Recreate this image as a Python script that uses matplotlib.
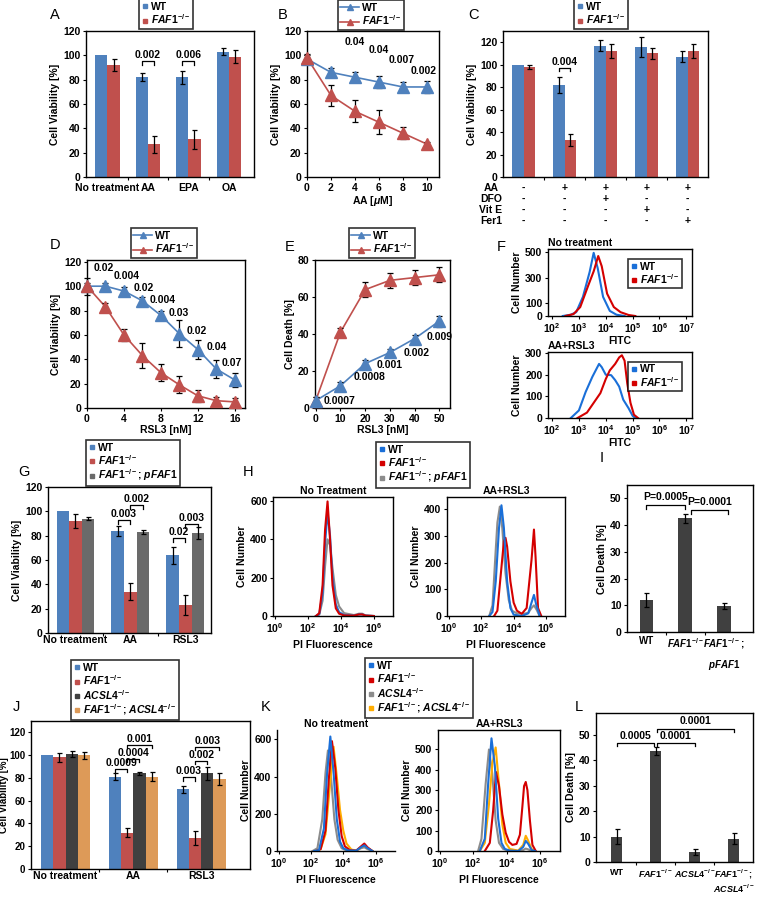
import numpy as np
import matplotlib
matplotlib.use('Agg')
import matplotlib.pyplot as plt
from matplotlib.lines import Line2D
from matplotlib.transforms import blended_transform_factory

plt.rcParams['font.family'] = ['Liberation Sans', 'DejaVu Sans']
plt.rcParams['font.weight'] = 'bold'
plt.rcParams['axes.labelweight'] = 'bold'
plt.rcParams['mathtext.fontset'] = 'custom'
plt.rcParams['mathtext.rm'] = 'Liberation Sans:bold'
plt.rcParams['mathtext.it'] = 'Liberation Sans:italic:bold'
plt.rcParams['mathtext.bf'] = 'Liberation Sans:bold'
plt.rcParams['mathtext.sf'] = 'Liberation Sans:bold'

FAF = r'$\mathit{FAF1}^{-/-}$'
ACSL = r'$\mathit{ACSL4}^{-/-}$'
PFAF = r'$\mathit{FAF1}^{-/-}$; $\mathit{pFAF1}$'
DKO = r'$\mathit{FAF1}^{-/-}$; $\mathit{ACSL4}^{-/-}$'

BLUE, RED, GRAY, DARK, ORANGE = '#4f81bd', '#c0504d', '#6a6a6a', '#404040', '#dd9a58'
FBLUE, FRED, FGRAY, FORANGE = '#1a6fd8', '#d40000', '#8c8c8c', '#ffad00'

# ---- A
a_groups = ['No treatment', 'AA', 'EPA', 'OA']
a_wt = [100, 82, 82, 103]
a_wt_err = [0, 3.5, 5.5, 3]
a_ko = [92, 27, 31, 99]
a_ko_err = [5, 7, 8, 5.5]

# ---- B
b_x = [0, 2, 4, 6, 8, 10]
b_wt = [97, 86, 82, 78, 74, 74]
b_wt_err = [3, 4, 4, 5, 4, 5]
b_ko = [98, 67, 54, 45, 36, 27]
b_ko_err = [3, 9, 9, 10, 5, 2]
b_p = ['0.04', '0.04', '0.007', '0.002']
b_px = [4, 6, 7.9, 9.7]
b_py = [111, 104, 96.5, 87]

# ---- C
c_wt = [100, 82, 117, 116, 107]
c_wt_err = [0, 7, 5, 9, 5]
c_ko = [98, 33, 112, 110, 112]
c_ko_err = [2, 5, 6, 5, 6]
c_rows = ['AA', 'DFO', 'Vit E', 'Fer1']
c_table = [['-', '+', '+', '+', '+'],
           ['-', '-', '+', '-', '-'],
           ['-', '-', '-', '+', '-'],
           ['-', '-', '-', '-', '+']]

# ---- D
d_x = [0, 2, 4, 6, 8, 10, 12, 14, 16]
d_wt = [100, 100, 96, 88, 76, 61, 48, 32, 23]
d_wt_err = [7, 3, 3, 3, 4, 11, 8, 7, 6]
d_ko = [100, 83, 60, 43, 29, 19, 10, 6, 5]
d_ko_err = [3, 3, 5, 10, 7, 7, 5, 3, 3]
d_p = ['0.02', '0.004', '0.02', '0.004', '0.03', '0.02', '0.04', '0.07']
d_px = [1.8, 4.3, 6.1, 8.2, 9.9, 11.9, 14.0, 15.7]
d_py = [115, 108, 98.5, 89, 78, 63.5, 50, 37]

# ---- E
e_x = [0, 10, 20, 30, 40, 50]
e_wt = [4, 12, 24, 30, 37.5, 47]
e_wt_err = [2, 2, 2, 2, 2, 3]
e_ko = [4, 41, 64, 69, 70.5, 72]
e_ko_err = [2, 2, 4, 4, 4, 4]
e_p = ['0.0007', '0.0008', '0.001', '0.002', '0.009']
e_px = [9.8, 21.7, 29.8, 41, 50.3]
e_py = [4, 17, 23, 30, 38.5]

# ---- F (log10 FITC, cell number)
f1_wt_x = [2.4, 2.7, 2.9, 3.15, 3.4, 3.55, 3.7, 3.9, 4.15, 4.4, 4.7]
f1_wt_y = [0, 10, 30, 150, 345, 495, 375, 150, 40, 10, 0]
f1_ko_x = [2.5, 2.8, 3.05, 3.35, 3.55, 3.72, 3.85, 4.05, 4.3, 4.55, 4.85, 5.1]
f1_ko_y = [0, 15, 70, 240, 350, 470, 390, 175, 70, 30, 8, 0]
f2_wt_x = [2.7, 3.0, 3.25, 3.5, 3.75, 3.85, 4.0, 4.2, 4.35, 4.5, 4.65, 4.85, 5.0, 5.1]
f2_wt_y = [0, 35, 120, 190, 250, 235, 200, 198, 175, 145, 85, 45, 10, 0]
f2_ko_x = [2.95, 3.3, 3.55, 3.8, 4.0, 4.15, 4.35, 4.5, 4.6, 4.7, 4.8, 4.92, 5.05, 5.2]
f2_ko_y = [0, 25, 70, 115, 180, 220, 250, 280, 290, 265, 160, 70, 15, 0]

# ---- G
g_groups = ['No treatment', 'AA', 'RSL3']
g_wt = [100, 84, 64]
g_wt_err = [0, 4, 7]
g_ko = [92, 34, 23]
g_ko_err = [6, 7, 8]
g_res = [94, 83, 82]
g_res_err = [1, 2, 5]

# ---- H (log10 PI, cell number)
h1_wt_x = [2.5, 2.7, 2.9, 3.05, 3.2, 3.35, 3.5, 3.7, 3.9, 4.2, 4.8, 5.1, 5.3, 5.5, 6.0]
h1_wt_y = [0, 10, 120, 380, 540, 420, 200, 60, 20, 5, 2, 8, 8, 2, 0]
h1_ko_x = [2.5, 2.7, 2.9, 3.05, 3.2, 3.35, 3.5, 3.7, 3.9, 4.2, 4.8, 5.1, 5.3, 5.5, 6.0]
h1_ko_y = [0, 15, 160, 450, 598, 400, 160, 40, 12, 3, 2, 8, 8, 2, 0]
h1_res_x = [2.5, 2.7, 2.9, 3.05, 3.2, 3.35, 3.5, 3.7, 3.9, 4.2, 4.8, 5.1, 5.3, 5.5, 6.0]
h1_res_y = [0, 8, 80, 260, 400, 370, 250, 110, 50, 15, 5, 12, 12, 3, 0]
h2_wt_x = [2.5, 2.7, 2.9, 3.1, 3.25, 3.4, 3.6, 3.8, 4.0, 4.5, 4.9, 5.1, 5.25, 5.4, 5.6]
h2_wt_y = [0, 15, 130, 330, 415, 330, 130, 30, 5, 0, 10, 50, 79, 40, 0]
h2_ko_x = [2.8, 3.0, 3.2, 3.4, 3.5, 3.6, 3.8, 4.0, 4.2, 4.5, 4.8, 5.0, 5.1, 5.25, 5.35, 5.5, 5.7]
h2_ko_y = [0, 20, 150, 280, 293, 260, 130, 50, 20, 8, 30, 150, 210, 324, 220, 30, 0]
h2_res_x = [2.5, 2.7, 2.9, 3.0, 3.15, 3.3, 3.5, 3.7, 3.9, 4.2, 4.6, 4.9, 5.1, 5.25, 5.4, 5.6]
h2_res_y = [0, 40, 250, 350, 410, 330, 160, 60, 20, 10, 8, 12, 30, 40, 25, 0]

# ---- I
i_labels = ['WT', FAF, r'$\mathit{FAF1}^{-/-}$;']
i_label2 = r'$\mathit{pFAF1}$'
i_vals = [12, 42.5, 9.7]
i_err = [2.5, 1.8, 1.0]

# ---- J
j_groups = ['No treatment', 'AA', 'RSL3']
j_wt = [100, 81, 70]
j_wt_err = [0, 3, 3]
j_ko = [98, 32, 27]
j_ko_err = [4, 4, 6]
j_ac = [101, 84, 84]
j_ac_err = [3, 1.5, 6]
j_dko = [100, 81, 79]
j_dko_err = [3, 4, 5]

# ---- K
k1_wt_x = [2.2, 2.5, 2.8, 3.0, 3.2, 3.4, 3.6, 3.8, 4.0, 4.3, 4.8, 5.1, 5.3, 5.5, 5.8]
k1_wt_y = [0, 5, 120, 420, 615, 420, 170, 50, 15, 3, 2, 20, 30, 15, 0]
k1_ko_x = [2.3, 2.6, 2.9, 3.1, 3.3, 3.5, 3.7, 3.9, 4.1, 4.4, 4.8, 5.1, 5.3, 5.5, 5.8]
k1_ko_y = [0, 10, 110, 380, 590, 450, 220, 80, 25, 5, 2, 25, 40, 20, 0]
k1_ac_x = [2.1, 2.4, 2.7, 2.9, 3.05, 3.25, 3.45, 3.65, 3.9, 4.2, 4.8, 5.1, 5.3, 5.5, 5.8]
k1_ac_y = [0, 15, 170, 420, 540, 390, 170, 60, 15, 3, 2, 15, 20, 10, 0]
k1_dko_x = [2.3, 2.6, 2.9, 3.15, 3.4, 3.6, 3.8, 4.0, 4.2, 4.5, 4.8, 5.1, 5.3, 5.5, 5.8]
k1_dko_y = [0, 10, 90, 330, 560, 400, 220, 110, 40, 8, 2, 20, 30, 15, 0]
k2_wt_x = [2.4, 2.7, 2.9, 3.1, 3.3, 3.5, 3.7, 3.9, 4.2, 4.7, 5.0, 5.15, 5.3, 5.5, 5.7]
k2_wt_y = [0, 60, 330, 555, 420, 160, 40, 10, 2, 0, 20, 50, 35, 5, 0]
k2_ko_x = [2.7, 3.0, 3.2, 3.37, 3.55, 3.75, 3.95, 4.15, 4.35, 4.6, 4.8, 4.95, 5.05, 5.15, 5.25, 5.4, 5.55, 5.75]
k2_ko_y = [0, 40, 200, 389, 320, 180, 90, 45, 30, 35, 80, 220, 320, 340, 300, 150, 30, 0]
k2_ac_x = [2.3, 2.5, 2.75, 2.95, 3.15, 3.35, 3.55, 3.8, 4.1, 4.7, 5.0, 5.15, 5.3, 5.5]
k2_ac_y = [0, 60, 330, 500, 380, 150, 40, 10, 2, 0, 5, 12, 8, 0]
k2_dko_x = [2.4, 2.7, 2.95, 3.15, 3.35, 3.55, 3.75, 3.95, 4.2, 4.7, 5.0, 5.15, 5.3, 5.5, 5.7]
k2_dko_y = [0, 40, 230, 430, 510, 330, 130, 40, 10, 2, 30, 75, 50, 10, 0]

# ---- L
l_labels = ['WT', FAF, ACSL, r'$\mathit{FAF1}^{-/-}$;']
l_label2 = ACSL
l_vals = [10, 43.5, 4, 9.2]
l_err = [3, 1.5, 1.3, 2]

W, H = 758, 898
fig = plt.figure(figsize=(W / 100, H / 100), dpi=100)
TK = 7.5   # tick labels
LB = 7.5   # axis labels
AN = 7.5   # p-values
LG = 7.5   # legends


def add_ax(l, t, r, b):
    ax = fig.add_axes([l / W, 1 - b / H, (r - l) / W, (b - t) / H])
    for s in ax.spines.values():
        s.set_linewidth(1.0)
    ax.tick_params(labelsize=TK, length=2.5, width=0.8, pad=1.5)
    ax.tick_params(which='minor', length=1.5, width=0.6)
    return ax


def letter(x, y, s):
    fig.text(x / W, 1 - y / H, s, fontsize=10.5, fontweight='normal', ha='left', va='center')


def legend(handles, labels, cx, cy, hl=0.6, **kw):
    leg = fig.legend(handles, labels, loc='center', bbox_to_anchor=(cx / W, 1 - cy / H),
                     fontsize=LG, frameon=True, fancybox=False, edgecolor='k',
                     handlelength=hl, handletextpad=0.3, borderpad=0.25,
                     labelspacing=0.05, borderaxespad=0, **kw)
    leg.get_frame().set_linewidth(1.2)
    return leg


def sq(c):
    return Line2D([], [], marker='s', ls='', color=c, markersize=3.5)


def tri(c):
    return Line2D([], [], marker='^', color=c, markersize=4.5, lw=1.2)


def bars(ax, series, errs, colors, width):
    n = len(series)
    x = np.arange(len(series[0]))
    offs = (np.arange(n) - (n - 1) / 2) * width
    for vals, err, c, o in zip(series, errs, colors, offs):
        ax.bar(x + o, vals, width, color=c, lw=0)
        e = np.array(err, float)
        m = e > 0
        ax.errorbar((x + o)[m], np.array(vals)[m], yerr=e[m], fmt='none', ecolor='k',
                    elinewidth=0.9, capsize=1.8, capthick=0.9)
    ax.set_xticks(x)
    ax.tick_params(axis='x', length=0, pad=3)
    ax.set_xticks(x[:-1] + 0.5, minor=True)
    ax.tick_params(axis='x', which='minor', length=2.5, width=0.8)
    return offs


def bracket(ax, x1, x2, y, txt, h=3):
    ax.plot([x1, x1, x2, x2], [y - h, y, y, y - h], color='k', lw=0.9, clip_on=False)
    ax.text((x1 + x2) / 2, y + 1, txt, ha='center', va='bottom', fontsize=AN)


def curve(ax, x, y, err, c):
    ax.plot(x, y, color=c, lw=1.2, clip_on=False, zorder=2)
    ax.errorbar(x, y, yerr=err, fmt='none', ecolor='k', elinewidth=0.9, capsize=2,
                capthick=0.9, clip_on=False, zorder=3)
    ax.plot(x, y, ls='', marker='^', color=c, markersize=8, clip_on=False, zorder=4)


def flow(ax, xs, ys, cs, xlim, ylim, yticks, xticks):
    for x, y, c in zip(xs, ys, cs):
        ax.plot(10 ** np.array(x), y, color=c, lw=1.5)
    ax.set_xscale('log')
    ax.set_xlim(10 ** xlim[0], 10 ** xlim[1])
    ax.set_ylim(*ylim)
    ax.set_yticks(yticks)
    ax.set_xticks([10.0 ** t for t in xticks])
    ax.set_xticklabels([r'$10^{%d}$' % t for t in xticks])


# ================= A
ax = add_ax(86, 31, 254, 177)
offs = bars(ax, [a_wt, a_ko], [a_wt_err, a_ko_err], [BLUE, RED], 0.3)
ax.set_xticklabels(a_groups)
ax.tick_params(axis='x', pad=4.5)
ax.set_xlim(-0.53, 3.62)
ax.set_ylim(0, 120)
ax.set_yticks(range(0, 121, 20))
ax.set_ylabel('Cell Viability [%]', fontsize=LB, labelpad=2)
bracket(ax, 1 + offs[0], 1 + offs[1], 95, '0.002')
bracket(ax, 2 + offs[0], 2 + offs[1], 95, '0.006')
legend([sq(BLUE), sq(RED)], ['WT', FAF], 166, 14)
letter(50, 15, 'A')

# ================= B
ax = add_ax(307, 31, 439, 177)
curve(ax, b_x, b_wt, b_wt_err, BLUE)
curve(ax, b_x, b_ko, b_ko_err, RED)
for t, x, y in zip(b_p, b_px, b_py):
    ax.text(x, y, t, ha='center', va='center', fontsize=AN)
ax.set_xlim(0, 11)
ax.set_ylim(0, 120)
ax.set_xticks(b_x)
ax.set_yticks(range(0, 121, 20))
ax.set_xlabel(r'AA [$\mu$M]', fontsize=LB, labelpad=1)
ax.set_ylabel('Cell Viability [%]', fontsize=LB, labelpad=2)
legend([tri(BLUE), tri(RED)], ['WT', FAF], 371, 15, hl=1.8)
letter(278, 15, 'B')

# ================= C
ax = add_ax(503, 31, 708, 177)
offs = bars(ax, [c_wt, c_ko], [c_wt_err, c_ko_err], [BLUE, RED], 0.27)
ax.set_xticklabels([])
ax.set_xlim(-0.5, 4.5)
ax.set_ylim(0, 130)
ax.set_yticks(range(0, 121, 20))
ax.set_ylabel('Cell Viability [%]', fontsize=LB, labelpad=2)
bracket(ax, 1 + offs[0], 1 + offs[1], 97, '0.004')
tr = blended_transform_factory(ax.transData, fig.transFigure)
for r, (name, row) in enumerate(zip(c_rows, c_table)):
    yy = 1 - (188 + r * 11) / H
    fig.text(491 / W, yy, name, ha='center', va='center', fontsize=TK)
    for g, s in enumerate(row):
        ax.text(g, yy, s, transform=tr, ha='center', va='center', fontsize=TK)
legend([sq(BLUE), sq(RED)], ['WT', FAF], 601, 14)
letter(468, 15, 'C')

# ================= D
ax = add_ax(87, 260, 245, 408)
curve(ax, d_x, d_wt, d_wt_err, BLUE)
curve(ax, d_x, d_ko, d_ko_err, RED)
for t, x, y in zip(d_p, d_px, d_py):
    ax.text(x, y, t, ha='center', va='center', fontsize=AN)
ax.set_xlim(0, 17.1)
ax.set_ylim(0, 121.5)
ax.set_xticks([0, 4, 8, 12, 16])
ax.set_yticks(range(0, 121, 20))
ax.set_xlabel('RSL3 [nM]', fontsize=LB, labelpad=1)
ax.set_ylabel('Cell Viability [%]', fontsize=LB, labelpad=2)
legend([tri(BLUE), tri(RED)], ['WT', FAF], 164, 243, hl=1.8)
letter(50, 245, 'D')

# ================= E
ax = add_ax(315, 260, 450, 408)
curve(ax, e_x, e_ko, e_ko_err, RED)
curve(ax, e_x, e_wt, e_wt_err, BLUE)
for t, x, y in zip(e_p, e_px, e_py):
    ax.text(x, y, t, ha='center', va='center', fontsize=AN, clip_on=False)
ax.set_xlim(-0.3, 54.3)
ax.set_ylim(0, 80)
ax.set_xticks(e_x)
ax.set_yticks(range(0, 81, 20))
ax.set_xlabel('RSL3 [nM]', fontsize=LB, labelpad=1)
ax.set_ylabel('Cell Death [%]', fontsize=LB, labelpad=2)
legend([tri(BLUE), tri(RED)], ['WT', FAF], 382, 243, hl=1.8)
letter(285, 247, 'E')

# ================= F
for (t, b, title, xs, ys, ylim, yt) in [
        (249, 316, 'No treatment', [f1_wt_x, f1_ko_x], [f1_wt_y, f1_ko_y], (0, 525), [0, 100, 300, 500]),
        (352, 418, 'AA+RSL3', [f2_wt_x, f2_ko_x], [f2_wt_y, f2_ko_y], (0, 305), [0, 100, 200, 300])]:
    ax = add_ax(548, t, 692, b)
    flow(ax, xs, ys, [FBLUE, FRED], (1.85, 7.21), ylim, yt, [2, 3, 4, 5, 6, 7])
    ax.minorticks_off()
    ax.set_xlabel('FITC', fontsize=LB, labelpad=0.5)
    ax.set_ylabel('Cell Number', fontsize=LB, labelpad=2)
    ax.set_title(title, fontsize=LB, loc='left', pad=2, fontweight='bold')
    leg = ax.legend([sq(FBLUE), sq(FRED)], ['WT', FAF], loc='upper right', fontsize=LG,
                    frameon=True, fancybox=False, edgecolor='k', handlelength=0.6,
                    handletextpad=0.3, borderpad=0.25, labelspacing=0.05,
                    bbox_to_anchor=(0.97, 0.93))
    leg.get_frame().set_linewidth(1.2)
letter(497, 247, 'F')

# ================= G
ax = add_ax(48, 487, 211, 633)
offs = bars(ax, [g_wt, g_ko, g_res], [g_wt_err, g_ko_err, g_res_err], [BLUE, RED, GRAY], 0.23)
ax.set_xticklabels(g_groups)
ax.tick_params(axis='x', pad=1.5)
ax.set_xlim(-0.5, 2.47)
ax.set_ylim(0, 120)
ax.set_yticks(range(0, 121, 20))
ax.set_ylabel('Cell Viability [%]', fontsize=LB, labelpad=2)
bracket(ax, 1 + offs[0], 1 + offs[1], 93, '0.003')
bracket(ax, 1 + offs[1], 1 + offs[2], 104.8, '0.002')
bracket(ax, 2 + offs[0], 2 + offs[1], 78, '0.02')
bracket(ax, 2 + offs[1], 2 + offs[2], 89.6, '0.003')
legend([sq(BLUE), sq(RED), sq(GRAY)], ['WT', FAF, PFAF], 133, 463)
letter(18, 472, 'G')

# ================= H
for (l, r, title, xs, ys, ylim, yt) in [
        (273, 393, 'No Treatment', [h1_res_x, h1_wt_x, h1_ko_x], [h1_res_y, h1_wt_y, h1_ko_y],
         (0, 621), [0, 200, 400, 600]),
        (447, 565, 'AA+RSL3', [h2_res_x, h2_ko_x, h2_wt_x], [h2_res_y, h2_ko_y, h2_wt_y],
         (0, 446), [0, 100, 200, 300, 400])]:
    ax = add_ax(l, 497, r, 616)
    cols = [FGRAY, FBLUE, FRED] if title == 'No Treatment' else [FGRAY, FRED, FBLUE]
    flow(ax, xs, ys, cols, (-0.1, 7.16), ylim, yt, [0, 2, 4, 6])
    ax.set_xlabel('PI Fluorescence', fontsize=LB, labelpad=3)
    ax.set_ylabel('Cell Number', fontsize=LB, labelpad=2)
    ax.set_title(title, fontsize=LB, pad=2, fontweight='bold')
legend([sq(FBLUE), sq(FRED), sq(FGRAY)], ['WT', FAF, PFAF], 423, 465)
letter(243, 472, 'H')

# ================= I
ax = add_ax(627, 485, 753, 632)
xi = np.arange(len(i_vals))
ax.bar(xi, i_vals, 0.35, color=DARK, lw=0)
ax.errorbar(xi, i_vals, yerr=i_err, fmt='none', ecolor='k', elinewidth=0.9, capsize=1.8, capthick=0.9)
ax.set_xticks(xi)
ax.set_xticklabels(i_labels)
ax.tick_params(axis='x', length=0, labelsize=7, pad=3)
ax.set_xticks(xi[:-1] + 0.5, minor=True)
ax.tick_params(axis='x', which='minor', length=2.5, width=0.8)
ax.set_xlim(-0.5, 2.75)
ax.set_ylim(0, 55)
ax.set_yticks(range(0, 51, 10))
ax.set_ylabel('Cell Death [%]', fontsize=LB, labelpad=2)
ax.text(2, 1 - 665 / H, i_label2, transform=blended_transform_factory(ax.transData, fig.transFigure),
        ha='center', va='center', fontsize=7)
bracket(ax, 0, 1, 47.5, 'P=0.0005', h=1.3)
bracket(ax, 1.15, 2.1, 45.6, 'P=0.0001', h=1.3)
letter(600, 458, 'I')

# ================= J
ax = add_ax(31, 721, 250, 869)
offs = bars(ax, [j_wt, j_ko, j_ac, j_dko], [j_wt_err, j_ko_err, j_ac_err, j_dko_err],
            [BLUE, RED, DARK, ORANGE], 0.18)
ax.set_xticklabels(j_groups)
ax.tick_params(axis='x', pad=1.5)
ax.tick_params(axis='y', labelsize=7)
ax.set_xlim(-0.51, 2.72)
ax.set_ylim(0, 130)
ax.set_yticks(range(0, 121, 20))
ax.set_ylabel('Cell Viability [%]', fontsize=7, labelpad=0)
for g, ps, ys in [(1, ['0.0009', '0.0004', '0.001'], [87.8, 96.6, 108.9]),
                  (2, ['0.003', '0.002', '0.003'], [80.5, 95, 107.4])]:
    bracket(ax, g + offs[0], g + offs[1], ys[0], ps[0])
    bracket(ax, g + offs[1], g + offs[2], ys[1], ps[1])
    bracket(ax, g + offs[1], g + offs[3], ys[2], ps[2])
legend([sq(BLUE), sq(RED), sq(DARK), sq(ORANGE)], ['WT', FAF, ACSL, DKO], 125, 690)
letter(13, 707, 'J')

# ================= K
for (l, r, title, xs, ys, ylim, yt, box) in [
        (277, 395, 'No treatment', [k1_ac_x, k1_dko_x, k1_ko_x, k1_wt_x],
         [k1_ac_y, k1_dko_y, k1_ko_y, k1_wt_y], (0, 650), [0, 200, 400, 600], False),
        (438, 560, 'AA+RSL3', [k2_ac_x, k2_dko_x, k2_ko_x, k2_wt_x],
         [k2_ac_y, k2_dko_y, k2_ko_y, k2_wt_y], (0, 596), [0, 100, 200, 300, 400, 500], True)]:
    ax = add_ax(l, 730, r, 851)
    flow(ax, xs, ys, [FGRAY, FORANGE, FRED, FBLUE], (-0.1, 7.2), ylim, yt, [0, 2, 4, 6])
    if not box:
        ax.spines['top'].set_visible(False)
        ax.spines['right'].set_visible(False)
    ax.set_xlabel('PI Fluorescence', fontsize=LB, labelpad=3)
    ax.set_ylabel('Cell Number', fontsize=LB, labelpad=2)
    ax.set_title(title, fontsize=LB, pad=2, fontweight='bold')
legend([sq(FBLUE), sq(FRED), sq(FGRAY), sq(FORANGE)], ['WT', FAF, ACSL, DKO], 419, 688)
letter(261, 707, 'K')

# ================= L
ax = add_ax(596, 713, 753, 862)
xl = np.arange(len(l_vals))
ax.bar(xl, l_vals, 0.3, color=DARK, lw=0)
ax.errorbar(xl, l_vals, yerr=l_err, fmt='none', ecolor='k', elinewidth=0.9, capsize=1.8, capthick=0.9)
ax.set_xticks(xl)
ax.set_xticklabels(l_labels)
ax.tick_params(axis='x', length=0, labelsize=6.5, pad=4)
ax.set_xticks(xl[:-1] + 0.5, minor=True)
ax.tick_params(axis='x', which='minor', length=2.5, width=0.8)
ax.set_xlim(-0.53, 3.5)
ax.set_ylim(0, 58.5)
ax.set_yticks(range(0, 51, 10))
ax.set_ylabel('Cell Death [%]', fontsize=LB, labelpad=2)
ax.text(3, 1 - 889 / H, l_label2, transform=blended_transform_factory(ax.transData, fig.transFigure),
        ha='center', va='center', fontsize=6.5)
bracket(ax, 0, 0.97, 46.7, '0.0005', h=1.3)
bracket(ax, 1.03, 2.0, 46.7, '0.0001', h=1.3)
bracket(ax, 1.03, 3.0, 52.4, '0.0001', h=1.3)
letter(575, 707, 'L')

fig.savefig('out.png', dpi=100)
